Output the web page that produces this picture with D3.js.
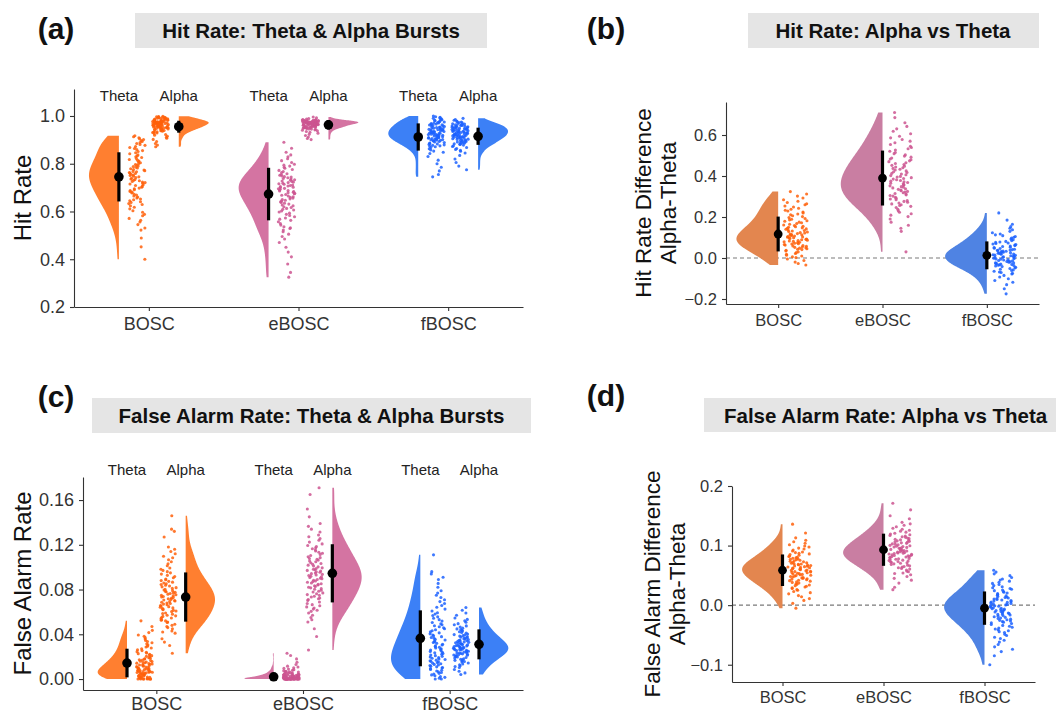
<!DOCTYPE html>
<html>
<head>
<meta charset="utf-8">
<script src="https://cdn.jsdelivr.net/npm/d3@7"></script>
<style>
  html, body { margin: 0; padding: 0; background: #fff; }
  svg { display: block; font-family: "Liberation Sans", Arial, Helvetica, sans-serif; }
</style>
</head>
<body>
<svg id="chart" width="1056" height="713"></svg>
<script>
// ── Categories ──────────────────────────────────────────────────────────────
const methods = ["BOSC", "eBOSC", "fBOSC"];
const bands = ["Theta", "Alpha"];

// ── (a) Hit rate, one value per participant ─────────────────────────────────
const hitBoscTheta = [.400,.452,.489,.522,.531,.545,.556,.563,.571,.582,.588,.597,.603,.611,.618,.624,.629,.633,.638,.641,.645,.649,.652,.657,.661,.665,.669,.672,.678,.681,.684,.688,.691,.695,.698,.702,.705,.709,.712,.715,.718,.721,.723,.726,.729,.731,.734,.736,.739,.742,.745,.748,.751,.753,.756,.759,.761,.763,.766,.768,.771,.774,.776,.779,.782,.785,.788,.791,.794,.797,.801,.804,.808,.811,.815,.818,.822,.826,.829,.833,.837,.842,.846,.851,.855,.859,.864,.868,.872,.877,.881,.885,.889,.893,.897,.901,.905,.909,.913,.917];
const hitBoscAlpha = [.871,.878,.885,.893,.902,.907,.911,.915,.919,.922,.926,.929,.931,.932,.934,.935,.936,.938,.939,.940,.942,.943,.944,.945,.946,.947,.948,.949,.950,.951,.951,.952,.953,.953,.954,.955,.955,.956,.957,.957,.958,.959,.960,.960,.961,.962,.962,.963,.964,.964,.965,.966,.966,.967,.968,.968,.969,.969,.970,.970,.971,.971,.972,.972,.973,.973,.974,.974,.975,.975,.976,.976,.977,.977,.978,.978,.979,.979,.980,.980,.981,.982,.983,.984,.984,.985,.986,.987,.988,.989,.990,.991,.992,.993,.994,.995,.996,.997,.998,.999];
const hitEboscTheta = [.325,.345,.380,.410,.430,.450,.470,.485,.495,.505,.515,.522,.529,.532,.536,.543,.550,.557,.563,.568,.573,.578,.583,.588,.593,.598,.602,.606,.609,.613,.617,.620,.624,.627,.631,.635,.638,.641,.644,.647,.650,.653,.656,.659,.662,.665,.668,.671,.674,.676,.679,.681,.683,.686,.688,.690,.693,.695,.697,.700,.702,.704,.707,.709,.711,.714,.716,.718,.721,.723,.726,.728,.731,.733,.736,.738,.741,.744,.746,.749,.752,.755,.758,.763,.767,.772,.776,.781,.785,.790,.794,.798,.805,.813,.821,.829,.837,.848,.865,.890];
const hitEboscAlpha = [.901,.906,.912,.918,.923,.928,.932,.935,.938,.940,.942,.944,.945,.946,.948,.949,.950,.951,.951,.952,.953,.953,.954,.955,.955,.956,.957,.957,.958,.958,.959,.960,.960,.961,.961,.962,.962,.963,.963,.964,.965,.965,.966,.966,.966,.967,.967,.967,.968,.968,.968,.969,.969,.969,.970,.970,.970,.971,.971,.971,.972,.972,.972,.973,.973,.973,.974,.974,.974,.974,.975,.975,.975,.976,.976,.976,.977,.977,.977,.978,.978,.978,.979,.979,.979,.980,.980,.980,.981,.981,.981,.982,.982,.983,.984,.985,.987,.989,.992,.996];
const hitFboscTheta = [.745,.755,.770,.785,.800,.815,.830,.843,.848,.853,.858,.863,.868,.871,.873,.875,.877,.879,.881,.883,.885,.887,.889,.891,.893,.895,.896,.898,.899,.900,.901,.902,.904,.905,.906,.907,.909,.910,.911,.912,.913,.915,.916,.917,.918,.919,.920,.922,.923,.924,.925,.926,.928,.929,.930,.931,.932,.934,.935,.936,.937,.938,.940,.941,.942,.943,.944,.946,.947,.948,.949,.950,.952,.953,.954,.956,.957,.959,.960,.962,.963,.965,.966,.968,.970,.971,.973,.975,.976,.978,.980,.982,.984,.986,.988,.990,.992,.994,.997,1.00];
const hitFboscAlpha = [.775,.790,.805,.820,.835,.845,.852,.856,.860,.864,.868,.872,.875,.878,.881,.882,.884,.885,.887,.888,.890,.891,.893,.894,.896,.897,.899,.900,.902,.903,.905,.906,.908,.909,.910,.911,.912,.913,.914,.915,.916,.917,.918,.919,.920,.921,.922,.923,.924,.925,.926,.927,.928,.929,.930,.931,.932,.933,.934,.935,.936,.937,.938,.939,.940,.941,.942,.943,.944,.945,.946,.947,.948,.949,.950,.951,.952,.953,.954,.955,.956,.957,.958,.959,.960,.961,.962,.963,.964,.966,.967,.969,.971,.973,.975,.977,.979,.982,.985,.990];
const hitThetaMean = [0.745, 0.673, 0.912];
const hitThetaSd   = [0.103, 0.110, 0.057];
const hitAlphaMean = [0.955, 0.963, 0.915];
const hitAlphaSd   = [0.025, 0.020, 0.036];

// ── (b) Hit rate difference, Alpha - Theta ──────────────────────────────────
const hitDiffBosc = [-.034,-.027,-.020,-.012,-.005,.002,.006,.010,.014,.018,.022,.026,.030,.034,.038,.041,.043,.045,.048,.050,.052,.054,.057,.059,.061,.063,.066,.068,.070,.072,.075,.077,.079,.081,.083,.085,.087,.089,.091,.093,.095,.097,.099,.101,.103,.105,.107,.109,.111,.113,.115,.117,.119,.122,.124,.127,.129,.132,.134,.137,.140,.142,.145,.147,.150,.153,.155,.158,.161,.165,.168,.172,.175,.179,.182,.186,.189,.193,.197,.202,.206,.211,.215,.220,.224,.229,.233,.238,.243,.249,.254,.260,.265,.271,.277,.284,.293,.302,.312,.324];
const hitDiffEbosc = [.030,.130,.145,.160,.175,.190,.202,.209,.216,.223,.230,.238,.246,.252,.256,.260,.264,.268,.272,.276,.280,.284,.288,.292,.296,.302,.305,.308,.312,.315,.318,.322,.325,.328,.332,.335,.338,.342,.345,.348,.352,.355,.358,.362,.365,.368,.372,.375,.378,.382,.385,.388,.392,.395,.398,.402,.406,.410,.413,.417,.421,.425,.429,.433,.437,.440,.444,.448,.452,.456,.461,.465,.470,.474,.479,.483,.488,.492,.497,.503,.509,.515,.521,.527,.533,.539,.545,.554,.562,.570,.578,.586,.594,.606,.618,.630,.642,.660,.685,.710];
const hitDiffFbosc = [-.175,-.150,-.130,-.118,-.110,-.101,-.093,-.085,-.078,-.075,-.071,-.068,-.065,-.061,-.058,-.055,-.051,-.048,-.045,-.042,-.039,-.037,-.035,-.033,-.032,-.030,-.028,-.026,-.024,-.023,-.021,-.019,-.017,-.015,-.014,-.012,-.010,-.008,-.006,-.005,-.003,-.001,.001,.003,.004,.006,.008,.009,.011,.013,.014,.016,.018,.019,.021,.023,.024,.026,.028,.029,.031,.033,.034,.036,.038,.039,.041,.043,.046,.048,.051,.053,.056,.058,.061,.063,.066,.068,.071,.073,.076,.078,.081,.085,.089,.093,.097,.101,.105,.109,.113,.117,.123,.130,.138,.145,.153,.165,.185,.220];
const hitDiffMean = [0.117, 0.390, 0.013];
const hitDiffSd   = [0.085, 0.134, 0.068];

// ── (c) False alarm rate ────────────────────────────────────────────────────
const faBoscTheta = [0,0,0,0,0,0,0,0,.0005,.0008,.001,.0012,.0015,.0018,.002,.0022,.0025,.0028,.003,.0033,.0036,.004,.0042,.0045,.0048,.0051,.0053,.0055,.0058,.006,.0062,.0064,.0066,.0068,.007,.0072,.0074,.0076,.0078,.008,.0082,.0085,.0088,.009,.0093,.0096,.0099,.0102,.0105,.0108,.0112,.0115,.0118,.0122,.0125,.0128,.0132,.0135,.0138,.0142,.0145,.0148,.0152,.0156,.016,.0165,.0169,.0173,.0178,.0182,.0186,.0191,.0196,.0203,.0209,.0215,.0221,.0227,.0233,.0239,.0245,.0254,.0262,.027,.0278,.0286,.0294,.0305,.0315,.0325,.0335,.0345,.0358,.037,.0382,.0394,.0415,.0435,.047,.052];
const faBoscAlpha = [.023,.030,.033,.036,.041,.042,.043,.045,.046,.047,.048,.049,.0505,.051,.052,.0525,.053,.054,.0545,.055,.056,.0565,.057,.058,.0585,.059,.0603,.0608,.0614,.062,.0625,.063,.0636,.0642,.0647,.0653,.0658,.0664,.067,.0675,.068,.0686,.0692,.0697,.0702,.0707,.0712,.0718,.0723,.0728,.0733,.0738,.0744,.0749,.0754,.0759,.0764,.077,.0775,.078,.0785,.079,.0796,.0803,.081,.0817,.0824,.0831,.0838,.0845,.0852,.0859,.0866,.0873,.088,.0887,.0894,.0905,.0916,.0927,.0938,.0949,.096,.0971,.0982,.0993,.1012,.103,.1048,.1066,.1084,.1098,.112,.114,.116,.118,.127,.132,.134,.146];
const faEboscTheta = [0,0,0,0,0,0,0,0,0,0,0,0,0,0,0,0,0,0,0,0,0,0,0,0,0,0,0,0,0,0,.0005,.0005,.0006,.0006,.0007,.0007,.0008,.0008,.0009,.0009,.001,.001,.0011,.0011,.0012,.0012,.0013,.0014,.0014,.0015,.0016,.0017,.0018,.0019,.002,.0021,.0022,.0023,.0024,.0025,.0026,.0027,.0028,.0029,.003,.0031,.0032,.0033,.0034,.0035,.0036,.0037,.0038,.0039,.004,.0042,.0045,.0047,.005,.0052,.0055,.0057,.006,.0062,.0065,.0067,.0069,.0073,.0078,.0084,.0089,.0095,.0101,.0108,.0115,.013,.015,.018,.021,.023];
const faEboscAlpha = [.026,.038,.045,.051,.053,.055,.057,.059,.0605,.0615,.0625,.0635,.0645,.0655,.0665,.0675,.0688,.0703,.071,.0718,.0725,.0733,.074,.0748,.0755,.0763,.077,.0778,.0785,.0793,.0802,.0808,.0815,.0821,.0827,.0833,.084,.0846,.0852,.0858,.0865,.0871,.0877,.0883,.089,.0896,.0902,.0908,.0913,.0919,.0925,.0931,.0936,.0942,.0948,.0954,.0959,.0965,.0971,.0977,.0982,.0988,.0994,.1003,.101,.1018,.1025,.1033,.104,.1048,.1055,.1063,.107,.1078,.1085,.1093,.1104,.1114,.1124,.1134,.1144,.1154,.1164,.1174,.1184,.1194,.1208,.1224,.124,.1256,.1272,.1288,.1315,.134,.1365,.139,.145,.152,.165,.171];
const faFboscTheta = [0,0,.0008,.0015,.0022,.003,.0037,.0044,.0051,.0058,.0065,.0072,.0079,.0086,.0093,.0099,.0103,.0109,.0114,.012,.0125,.0131,.0136,.0142,.0147,.0153,.0158,.0164,.0169,.0175,.018,.0186,.0191,.0197,.0203,.0209,.0215,.0221,.0228,.0234,.024,.0246,.0253,.0259,.0265,.0271,.0278,.0284,.029,.0296,.0304,.0311,.0319,.0326,.0334,.0341,.0349,.0356,.0364,.0371,.0379,.0386,.0394,.0404,.0413,.0422,.0431,.044,.0449,.0458,.0467,.0476,.0485,.0494,.0506,.0518,.0531,.0543,.0556,.0568,.0581,.0593,.0608,.0625,.0642,.0658,.0675,.0692,.0709,.0729,.0749,.0769,.0789,.082,.0855,.089,.091,.094,.096,.111];
const faFboscAlpha = [.004,.0055,.007,.0085,.0103,.0111,.0119,.0127,.0135,.0143,.0152,.0157,.0162,.0167,.0172,.0177,.0182,.0187,.0192,.0197,.0202,.0205,.0208,.0212,.0215,.0218,.0222,.0225,.0228,.0232,.0235,.0238,.0242,.0245,.0248,.0251,.0254,.0256,.0259,.0262,.0265,.0268,.027,.0273,.0276,.0279,.0282,.0284,.0287,.029,.0293,.0296,.0299,.0302,.0305,.0308,.0312,.0315,.0318,.0322,.0325,.0328,.0332,.0335,.0338,.0342,.0345,.0348,.0352,.0357,.0361,.0366,.037,.0375,.0379,.0384,.0388,.0393,.0397,.0403,.041,.0416,.0423,.0429,.0436,.0442,.0448,.0455,.0465,.0475,.0485,.0495,.0508,.052,.0533,.0545,.057,.059,.0615,.064];
const faThetaMean = [0.0143, 0.0020, 0.0364];
const faThetaSd   = [0.0128, 0.0015, 0.0250];
const faAlphaMean = [0.0733, 0.0945, 0.0310];
const faAlphaSd   = [0.0220, 0.0260, 0.0134];

// ── (d) False alarm difference, Alpha - Theta ───────────────────────────────
const faDiffBosc = [-.005,.003,.008,.011,.014,.016,.019,.021,.023,.025,.026,.028,.029,.0305,.0316,.0327,.0338,.0349,.036,.0371,.0382,.0393,.0403,.0411,.0418,.0426,.0434,.0442,.045,.0457,.0465,.0473,.0481,.0488,.0496,.0503,.051,.0516,.0523,.053,.0536,.0543,.055,.0556,.0563,.057,.0576,.0583,.059,.0596,.0603,.0609,.0615,.0621,.0628,.0634,.064,.0646,.0653,.0659,.0665,.0671,.0678,.0684,.069,.0696,.0704,.0712,.0721,.0729,.0737,.0746,.0754,.0762,.0771,.0779,.0787,.0796,.0805,.0816,.0827,.0838,.0849,.086,.0871,.0882,.0893,.0908,.0925,.0942,.0958,.0975,.0992,.1015,.104,.1065,.109,.113,.121,.136];
const faDiffEbosc = [.026,.030,.037,.042,.045,.048,.051,.053,.054,.056,.057,.059,.0605,.0616,.0627,.0638,.0649,.066,.0671,.0682,.0693,.0703,.071,.0718,.0725,.0733,.074,.0748,.0755,.0763,.077,.0778,.0785,.0793,.0802,.0808,.0815,.0821,.0827,.0833,.084,.0846,.0852,.0858,.0865,.0871,.0877,.0883,.089,.0896,.0903,.0909,.0916,.0923,.0929,.0936,.0943,.0949,.0956,.0963,.0969,.0976,.0983,.0989,.0996,.1004,.1012,.1021,.1029,.1037,.1046,.1054,.1062,.1071,.1079,.1087,.1096,.1105,.1116,.1127,.1138,.1149,.116,.1171,.1182,.1193,.1208,.1225,.1242,.1258,.1275,.1292,.1315,.134,.1365,.139,.145,.150,.160,.171];
const faDiffFbosc = [-.100,-.085,-.078,-.074,-.070,-.066,-.062,-.059,-.056,-.054,-.051,-.049,-.046,-.0445,-.043,-.0415,-.040,-.0385,-.037,-.0355,-.034,-.0325,-.031,-.0295,-.0285,-.0275,-.0265,-.0255,-.0245,-.0235,-.0225,-.0215,-.0205,-.0195,-.0185,-.0175,-.0165,-.0155,-.0147,-.0139,-.0131,-.0123,-.0115,-.0107,-.0099,-.0091,-.0083,-.0075,-.0067,-.0059,-.0051,-.0043,-.0035,-.0027,-.0019,-.0011,-.0003,.0004,.0012,.0021,.0029,.0037,.0046,.0054,.0062,.0071,.0079,.0087,.0096,.0104,.0112,.0121,.0129,.0137,.0146,.0155,.0168,.018,.0193,.0205,.0218,.023,.0243,.0255,.0268,.028,.0293,.0309,.0328,.0346,.0365,.0384,.0403,.0421,.044,.0465,.0495,.0525,.0555,.0585];
const faDiffMean = [0.0586, 0.093, -0.005];
const faDiffSd   = [0.0265, 0.027, 0.028];

// ── Colours ─────────────────────────────────────────────────────────────────
const pointColor  = { BOSC: "#ff600a", eBOSC: "#cc5590", fBOSC: "#1c62ff" };
const violinRaw   = { BOSC: "#ff7f30", eBOSC: "#d474a2", fBOSC: "#3c80f6" };
const violinDiff  = { BOSC: "#e3864f", eBOSC: "#c97ea2", fBOSC: "#4f83e3" };

const svg = d3.select("#chart");

// ── Half-violin density (gaussian kernel, nrd0 bandwidth, trimmed) ──────────
function density(values) {
  const sorted = values.slice().sort(d3.ascending);
  const sd = d3.deviation(sorted);
  const iqr = (d3.quantile(sorted, 0.75) - d3.quantile(sorted, 0.25)) / 1.34;
  const lo = Math.min(sd, iqr) || sd;
  const bw = 0.9 * lo * Math.pow(sorted.length, -0.2);
  const [mn, mx] = d3.extent(sorted);
  const n = 200;
  return d3.range(n).map(i => {
    const t = mn + (mx - mn) * i / (n - 1);
    const k = d3.mean(sorted, v => Math.exp(-0.5 * ((t - v) / bw) ** 2));
    return [t, k / bw];
  });
}

function group(method, band, values, mean, sd) {
  return { method, band, values, mean, sd };
}

let jitterSeed = 0.137;

function drawPanel(p) {
  const g = svg.append("g");
  const x = d3.scalePoint().domain(methods).range([p.left, p.right]).padding(0.5);
  const y = d3.scaleLinear().domain(p.yDomain).range([p.bottom, p.top]);
  const step = x.step();

  // strip title + panel letter
  g.append("rect")
    .attr("x", p.box[0]).attr("y", p.box[1])
    .attr("width", p.box[2]).attr("height", p.box[3])
    .attr("fill", "#e5e5e5");
  g.append("text")
    .attr("x", p.titleX).attr("y", p.box[1] + p.box[3] / 2)
    .attr("text-anchor", p.titleAnchor).attr("dominant-baseline", "central")
    .attr("font-weight", "bold").attr("font-size", 20.5).attr("fill", "#111")
    .text(p.title);
  g.append("text")
    .attr("x", p.letter[0]).attr("y", p.letter[1])
    .attr("text-anchor", "middle").attr("dominant-baseline", "central")
    .attr("font-weight", "bold").attr("font-size", 30).attr("fill", "#111")
    .text(p.letterText);

  if (p.diff) {
    g.append("line")
      .attr("x1", p.left).attr("x2", p.right)
      .attr("y1", y(0)).attr("y2", y(0))
      .attr("stroke", "#7a7a7a").attr("stroke-width", 1.1)
      .attr("stroke-dasharray", "4,3");
  }

  p.groups.forEach(gr => {
    const theta = gr.band === "Theta";
    const cx = x(gr.method) + (p.diff ? 0 : (theta ? -0.2 : 0.2) * step);
    const vdir = p.diff || theta ? -1 : 1;
    const pdir = -vdir;
    const vWidth = (p.diff ? 0.4 : 0.2) * step;
    const pts = p.diff ? [0.05, 0.28] : [0.065, 0.175];

    const dens = density(gr.values);
    const w = d3.scaleLinear().domain([0, d3.max(dens, d => d[1])]).range([0, vWidth]);
    g.append("path")
      .datum(dens)
      .attr("fill", (p.diff ? violinDiff : violinRaw)[gr.method])
      .attr("d", d3.area().y(d => y(d[0])).x0(cx).x1(d => cx + vdir * w(d[1])));

    // horizontal jitter only (seeded, so the picture is repeatable)
    jitterSeed = (jitterSeed + 0.173) % 1;
    const jitter = d3.randomLcg(jitterSeed);
    g.append("g").selectAll("circle")
      .data(gr.values)
      .join("circle")
      .attr("cx", () => cx + pdir * (pts[0] + jitter() * (pts[1] - pts[0])) * step)
      .attr("cy", v => y(v))
      .attr("r", 1.55)
      .attr("fill", pointColor[gr.method])
      .attr("fill-opacity", 0.85);

    g.append("line")
      .attr("x1", cx).attr("x2", cx)
      .attr("y1", y(gr.mean - gr.sd)).attr("y2", y(gr.mean + gr.sd))
      .attr("stroke", "#000").attr("stroke-width", 3.2);
    g.append("circle")
      .attr("cx", cx).attr("cy", y(gr.mean))
      .attr("r", p.diff ? 4.4 : 4.8).attr("fill", "#000");
  });

  // band labels above each pair
  if (!p.diff) {
    methods.forEach(m => {
      bands.forEach(b => {
        g.append("text")
          .attr("x", x(m) + (b === "Theta" ? -0.2 : 0.2) * step)
          .attr("y", y(p.bandLabelY))
          .attr("text-anchor", "middle").attr("dominant-baseline", "central")
          .attr("font-size", 15).attr("fill", "#222")
          .text(b);
      });
    });
  }

  // axes
  const yAxis = g.append("g")
    .attr("transform", `translate(${p.left},0)`)
    .call(d3.axisLeft(y).tickValues(p.yTicks).tickFormat(d3.format(p.fmt))
      .tickSize(4).tickSizeOuter(0).tickPadding(5));
  const xAxis = g.append("g")
    .attr("transform", `translate(0,${p.bottom})`)
    .call(d3.axisBottom(x).tickSize(4).tickSizeOuter(0).tickPadding(p.xPad));
  [yAxis, xAxis].forEach(a => {
    a.attr("font-family", null).attr("font-size", p.tickFont);
    a.select(".domain").attr("stroke", "#333").attr("stroke-width", 1.1);
    a.selectAll(".tick line").attr("stroke", "#333").attr("stroke-width", 1.1);
    a.selectAll(".tick text").attr("fill", "#333");
  });

  // y axis title (one or two lines)
  p.yTitle.forEach((line, i) => {
    g.append("text")
      .attr("transform", `translate(${p.yTitleX[i]},${(p.top + p.bottom) / 2}) rotate(-90)`)
      .attr("text-anchor", "middle").attr("dominant-baseline", "central")
      .attr("font-size", p.yTitleFont).attr("fill", "#111")
      .text(line);
  });
}

// ── Panels ──────────────────────────────────────────────────────────────────
drawPanel({
  letterText: "(a)", letter: [56, 28],
  title: "Hit Rate: Theta & Alpha Bursts", box: [135, 13, 352, 35], titleX: 311, titleAnchor: "middle",
  left: 74, right: 523, top: 89, bottom: 307, xPad: 6.5,
  yDomain: [0.2, 1.113], yTicks: [0.2, 0.4, 0.6, 0.8, 1.0], fmt: ".1f", tickFont: 18,
  yTitle: ["Hit Rate"], yTitleX: [22], yTitleFont: 24, bandLabelY: 1.084,
  diff: false,
  groups: [
    group("BOSC", "Theta", hitBoscTheta, hitThetaMean[0], hitThetaSd[0]),
    group("BOSC", "Alpha", hitBoscAlpha, hitAlphaMean[0], hitAlphaSd[0]),
    group("eBOSC", "Theta", hitEboscTheta, hitThetaMean[1], hitThetaSd[1]),
    group("eBOSC", "Alpha", hitEboscAlpha, hitAlphaMean[1], hitAlphaSd[1]),
    group("fBOSC", "Theta", hitFboscTheta, hitThetaMean[2], hitThetaSd[2]),
    group("fBOSC", "Alpha", hitFboscAlpha, hitAlphaMean[2], hitAlphaSd[2])
  ]
});

drawPanel({
  letterText: "(b)", letter: [606, 28],
  title: "Hit Rate: Alpha vs Theta", box: [748, 13, 291, 35], titleX: 893, titleAnchor: "middle",
  left: 726, right: 1039, top: 102, bottom: 304, xPad: 6.5,
  yDomain: [-0.2244, 0.761], yTicks: [-0.2, 0, 0.2, 0.4, 0.6], fmt: ".1f", tickFont: 16.5,
  yTitle: ["Hit Rate Difference", "Alpha-Theta"], yTitleX: [643, 668], yTitleFont: 22.5,
  diff: true,
  groups: [
    group("BOSC", "Diff", hitDiffBosc, hitDiffMean[0], hitDiffSd[0]),
    group("eBOSC", "Diff", hitDiffEbosc, hitDiffMean[1], hitDiffSd[1]),
    group("fBOSC", "Diff", hitDiffFbosc, hitDiffMean[2], hitDiffSd[2])
  ]
});

drawPanel({
  letterText: "(c)", letter: [56, 396],
  title: "False Alarm Rate: Theta & Alpha Bursts", box: [92, 398, 439, 35], titleX: 311.5, titleAnchor: "middle",
  left: 83, right: 523, top: 477, bottom: 690, xPad: 3,
  yDomain: [-0.0098, 0.1806], yTicks: [0, 0.04, 0.08, 0.12, 0.16], fmt: ".2f", tickFont: 18,
  yTitle: ["False Alarm Rate"], yTitleX: [22], yTitleFont: 24, bandLabelY: 0.1877,
  diff: false,
  groups: [
    group("BOSC", "Theta", faBoscTheta, faThetaMean[0], faThetaSd[0]),
    group("BOSC", "Alpha", faBoscAlpha, faAlphaMean[0], faAlphaSd[0]),
    group("eBOSC", "Theta", faEboscTheta, faThetaMean[1], faThetaSd[1]),
    group("eBOSC", "Alpha", faEboscAlpha, faAlphaMean[1], faAlphaSd[1]),
    group("fBOSC", "Theta", faFboscTheta, faThetaMean[2], faThetaSd[2]),
    group("fBOSC", "Alpha", faFboscAlpha, faAlphaMean[2], faAlphaSd[2])
  ]
});

drawPanel({
  letterText: "(d)", letter: [606, 395],
  title: "False Alarm Rate: Alpha vs Theta", box: [704, 398, 400, 34], titleX: 724, titleAnchor: "start",
  left: 732, right: 1035, top: 486, bottom: 682, xPad: 5.5,
  yDomain: [-0.129, 0.2], yTicks: [-0.1, 0, 0.1, 0.2], fmt: ".1f", tickFont: 16.5,
  yTitle: ["False Alarm Difference", "Alpha-Theta"], yTitleX: [652, 677], yTitleFont: 22.5,
  diff: true,
  groups: [
    group("BOSC", "Diff", faDiffBosc, faDiffMean[0], faDiffSd[0]),
    group("eBOSC", "Diff", faDiffEbosc, faDiffMean[1], faDiffSd[1]),
    group("fBOSC", "Diff", faDiffFbosc, faDiffMean[2], faDiffSd[2])
  ]
});
</script>
</body>
</html>
